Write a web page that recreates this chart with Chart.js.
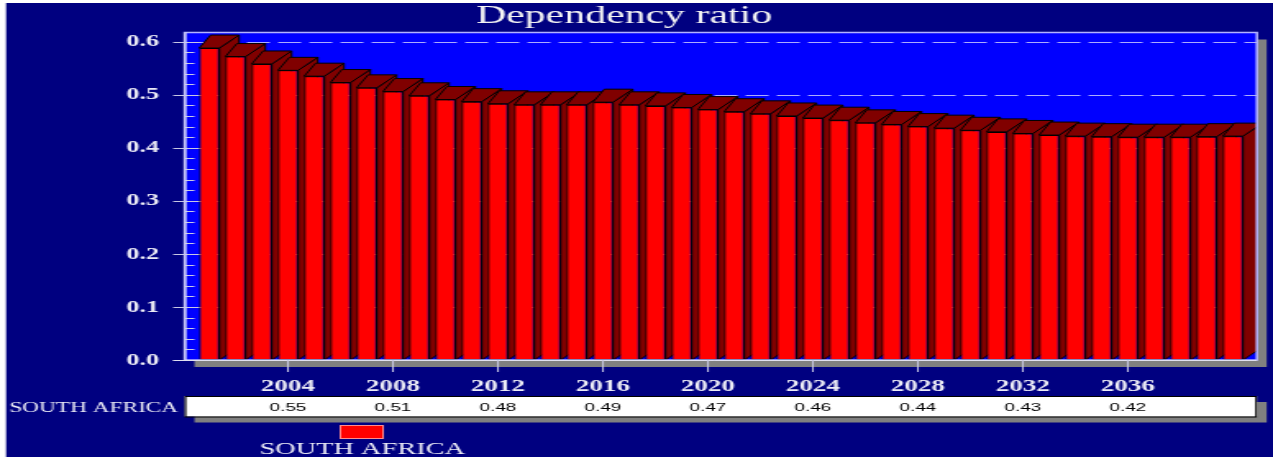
<!DOCTYPE html>
<html>
<head>
<meta charset="utf-8">
<title>Dependency ratio</title>
<script src="https://cdn.jsdelivr.net/npm/chart.js@4.4.1/dist/chart.umd.min.js"></script>
<style>
  html, body { margin: 0; padding: 0; background: #ffffff; overflow: hidden; }
  #chart { display: block; }
</style>
</head>
<body>
<!-- the drawing buffer is narrower than the box, so everything is drawn wide -->
<canvas id="chart" width="776" height="457" style="width:1273px;height:457px"></canvas>
<script>
const TITLE = 'Dependency ratio';
const COUNTRY = 'SOUTH AFRICA';

const YEARS = [
  '2001', '2002', '2003', '2004', '2005', '2006', '2007', '2008', '2009', '2010',
  '2011', '2012', '2013', '2014', '2015', '2016', '2017', '2018', '2019', '2020',
  '2021', '2022', '2023', '2024', '2025', '2026', '2027', '2028', '2029', '2030',
  '2031', '2032', '2033', '2034', '2035', '2036', '2037', '2038', '2039', '2040'
];
const RATIO = [
  0.588, 0.572, 0.558, 0.546, 0.535, 0.523, 0.513, 0.506, 0.498, 0.491,
  0.487, 0.483, 0.481, 0.481, 0.481, 0.486, 0.481, 0.479, 0.476, 0.472,
  0.468, 0.464, 0.460, 0.456, 0.452, 0.447, 0.444, 0.440, 0.437, 0.433,
  0.430, 0.427, 0.424, 0.422, 0.421, 0.420, 0.420, 0.420, 0.421, 0.422
];
const TICK_YEARS = ['2004', '2008', '2012', '2016', '2020', '2024', '2028', '2032', '2036'];
const Y_TICKS = [0, 0.1, 0.2, 0.3, 0.4, 0.5, 0.6];

const NAVY = '#000080';
const WALL = '#0000ff';
const FRONT = '#ff0000';
const SIDE = '#800000';
const SHADOW = '#808080';
const GRID = 'rgba(215,215,255,0.8)';
const TICK = '#c8c8e4';
const LABEL = '#ececf6';
const DEPTH = { left: 7, right: 12, up: 13 };

// plot box around the chart area (the bars sit a little inside it)
function frameOf(area) {
  return { l: area.left - 7, r: area.right + 6.6, t: area.top - 9.2, b: area.bottom };
}

const backdrop = {
  id: 'backdrop',
  beforeDraw(chart) {
    const ctx = chart.ctx, y = chart.scales.y;
    const f = frameOf(chart.chartArea);
    ctx.save();
    ctx.fillStyle = '#ffffff';
    ctx.fillRect(0, 0, chart.width, chart.height);
    ctx.fillStyle = NAVY;
    ctx.fillRect(3.7, 3, chart.width, chart.height);

    ctx.fillStyle = SHADOW;
    ctx.fillRect(f.l + 6, f.t + 7, f.r - f.l, f.b - f.t);
    ctx.fillStyle = WALL;
    ctx.fillRect(f.l, f.t, f.r - f.l, f.b - f.t);

    // dashed grid on the back wall
    ctx.strokeStyle = GRID;
    ctx.lineWidth = 1;
    ctx.setLineDash([14, 5]);
    Y_TICKS.forEach(v => {
      if (v === 0) return;
      const py = Math.round(y.getPixelForValue(v)) + 0.5;
      ctx.beginPath();
      ctx.moveTo(f.l, py);
      ctx.lineTo(f.r, py);
      ctx.stroke();
    });
    ctx.setLineDash([]);

    // minor ticks every 0.02, major ticks every 0.1
    ctx.strokeStyle = TICK;
    for (let i = 1; i < 30; i++) {
      if (i % 5 === 0) continue;
      const py = Math.round(y.getPixelForValue(i * 0.02)) + 0.5;
      ctx.beginPath();
      ctx.moveTo(f.l, py);
      ctx.lineTo(f.l + 6, py);
      ctx.stroke();
    }
    Y_TICKS.forEach(v => {
      const py = Math.round(y.getPixelForValue(v)) + 0.5;
      ctx.beginPath();
      ctx.moveTo(f.l - 7, py);
      ctx.lineTo(f.l + 9, py);
      ctx.stroke();
    });
    ctx.restore();
  }
};

// top and right faces of each bar, painted left to right before the fronts
const bars3d = {
  id: 'bars3d',
  beforeDatasetsDraw(chart) {
    const ctx = chart.ctx;
    const f = frameOf(chart.chartArea);
    const meta = chart.getDatasetMeta(0);
    ctx.save();
    ctx.beginPath();
    ctx.rect(f.l, f.t, f.r - f.l, f.b - f.t);
    ctx.clip();
    ctx.fillStyle = SIDE;
    ctx.strokeStyle = '#000000';
    ctx.lineWidth = 1;
    meta.data.forEach(bar => {
      const L = bar.x - bar.width / 2, R = bar.x + bar.width / 2;
      const T = bar.y, B = bar.base;
      ctx.beginPath();
      ctx.moveTo(R, T);
      ctx.lineTo(R + DEPTH.right, T - DEPTH.up);
      ctx.lineTo(R + DEPTH.right, B - DEPTH.up);
      ctx.lineTo(R, B);
      ctx.closePath();
      ctx.fill();
      ctx.stroke();

      ctx.beginPath();
      ctx.moveTo(L, T);
      ctx.lineTo(R, T);
      ctx.lineTo(R + DEPTH.right, T - DEPTH.up);
      ctx.lineTo(L + DEPTH.left, T - DEPTH.up);
      ctx.closePath();
      ctx.fill();
      ctx.stroke();
    });
    ctx.restore();
  }
};

const decorations = {
  id: 'decorations',
  afterDraw(chart) {
    const ctx = chart.ctx, x = chart.scales.x, y = chart.scales.y;
    const f = frameOf(chart.chartArea);
    ctx.save();

    // plot border, value axis and category axis
    ctx.strokeStyle = '#b4b4ff';
    ctx.lineWidth = 1.5;
    ctx.strokeRect(f.l, f.t, f.r - f.l, f.b - f.t);
    ctx.strokeStyle = '#e0e0f0';
    ctx.lineWidth = 1;
    ctx.beginPath();
    ctx.moveTo(f.l + 0.5, f.t);
    ctx.lineTo(f.l + 0.5, f.b);
    ctx.moveTo(f.l - 7, f.b + 0.5);
    ctx.lineTo(f.r, f.b + 0.5);
    ctx.stroke();

    ctx.strokeStyle = TICK;
    TICK_YEARS.forEach(yr => {
      const px = x.getPixelForValue(YEARS.indexOf(yr));
      ctx.beginPath();
      ctx.moveTo(px, f.b);
      ctx.lineTo(px, f.b + 12);
      ctx.stroke();
    });

    // value labels
    ctx.fillStyle = LABEL;
    ctx.font = 'bold 16px "Liberation Serif"';
    ctx.textAlign = 'right';
    ctx.textBaseline = 'middle';
    Y_TICKS.forEach(v => {
      ctx.fillText(v.toFixed(1), f.l - 15.5, y.getPixelForValue(v) + 0.5);
    });

    // year labels
    ctx.textAlign = 'center';
    ctx.textBaseline = 'alphabetic';
    ctx.font = 'bold 16.5px "Liberation Serif"';
    TICK_YEARS.forEach(yr => {
      ctx.fillText(yr, x.getPixelForValue(YEARS.indexOf(yr)), 391);
    });

    // data table row
    const top = 396, h = 20.5;
    ctx.fillStyle = SHADOW;
    ctx.fillRect(f.l + 6, top + 6, f.r - f.l, h);
    ctx.fillStyle = '#ffffff';
    ctx.fillRect(f.l, top, f.r - f.l, h);
    ctx.strokeStyle = '#000000';
    ctx.lineWidth = 1;
    ctx.strokeRect(f.l + 0.5, top + 0.5, f.r - f.l - 1, h);

    ctx.fillStyle = '#000000';
    ctx.font = '11.5px "Liberation Sans"';
    TICK_YEARS.forEach(yr => {
      const i = YEARS.indexOf(yr);
      ctx.fillText(RATIO[i].toFixed(2), x.getPixelForValue(i), 410.5);
    });

    ctx.fillStyle = LABEL;
    ctx.font = '14.2px "Liberation Serif"';
    ctx.textAlign = 'left';
    ctx.fillText(COUNTRY, 5.7, 411.7);

    // legend
    ctx.fillStyle = FRONT;
    ctx.fillRect(207, 425, 27, 14);
    ctx.strokeStyle = '#ff8c8c';
    ctx.strokeRect(207.5, 425.5, 26, 13);
    ctx.fillStyle = LABEL;
    ctx.font = '17.3px "Liberation Serif"';
    ctx.textAlign = 'center';
    ctx.fillText(COUNTRY, 220.8, 454);

    // title
    ctx.fillStyle = '#f4f4f4';
    ctx.font = '25.5px "Liberation Serif"';
    ctx.fillText(TITLE, 380.4, 22.7);
    ctx.restore();
  }
};

new Chart(document.getElementById('chart'), {
  type: 'bar',
  data: {
    labels: YEARS,
    datasets: [{
      label: COUNTRY,
      data: RATIO,
      backgroundColor: FRONT,
      borderColor: '#000000',
      borderWidth: 1,
      borderSkipped: false,
      categoryPercentage: 1,
      barPercentage: 0.77
    }]
  },
  options: {
    responsive: false,
    animation: false,
    layout: { padding: { left: 119.56, right: 16.44, top: 41.7, bottom: 97 } },
    scales: {
      x: { display: false, offset: true },
      y: { display: false, min: 0, max: 0.6 }
    },
    plugins: {
      legend: { display: false },
      title: { display: false },
      tooltip: { enabled: false }
    }
  },
  plugins: [backdrop, bars3d, decorations]
});
</script>
</body>
</html>
